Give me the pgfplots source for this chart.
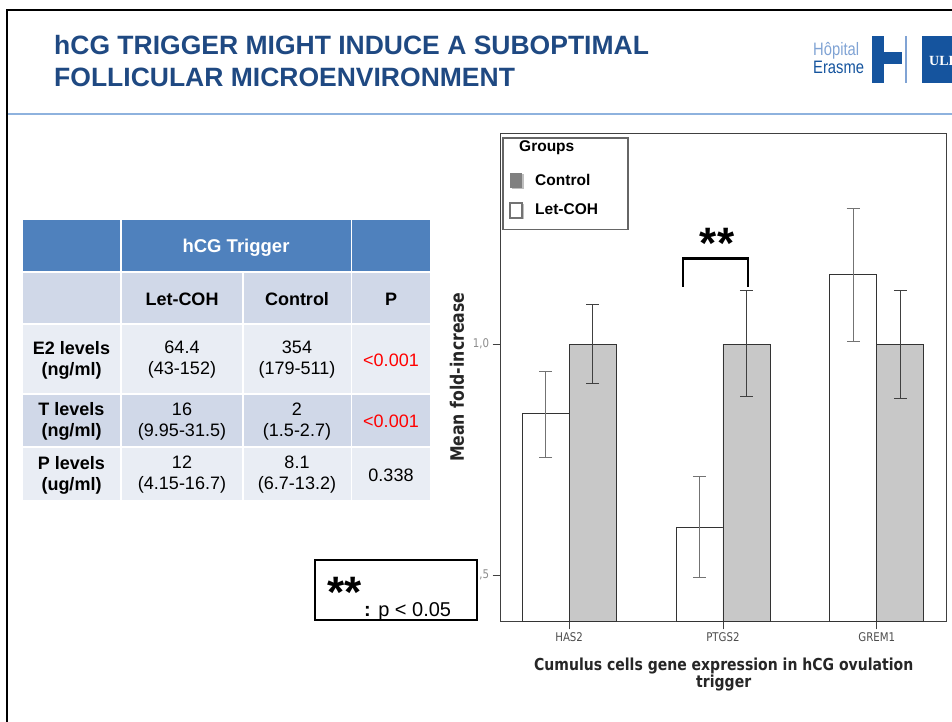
\documentclass[border=0pt]{standalone}
\usepackage{pgfplots}
\pgfplotsset{compat=1.18}
\usepackage{fontspec}
\setmainfont{Liberation Sans}
\newfontfamily\chartfont[FakeStretch=0.85]{DejaVu Sans}
\newfontfamily\seriffont{Liberation Serif}
\definecolor{titleblue}{RGB}{31,73,130}
\definecolor{rulecol}{RGB}{142,178,222}
\definecolor{hdr}{RGB}{79,129,189}
\definecolor{rowA}{RGB}{208,216,232}
\definecolor{rowB}{RGB}{233,237,244}
\definecolor{logoblue}{RGB}{21,84,158}
\definecolor{logolight}{RGB}{128,163,212}
\definecolor{ctrlgray}{RGB}{200,200,200}
\definecolor{pred}{RGB}{255,0,0}
\newcommand{\tbl}{\fontsize{18}{21}\selectfont}
\newcommand{\cellrow}[3]{%
  \fill[#1] (22.7,#2) rectangle (120,#3);
  \fill[#1] (121.5,#2) rectangle (242,#3);
  \fill[#1] (243.5,#2) rectangle (350.5,#3);
  \fill[#1] (352,#2) rectangle (430,#3);}
\begin{document}
\begin{tikzpicture}[x=1pt,y=1pt]
\useasboundingbox (0,0) rectangle (952,722);
\begin{scope}
\clip (0,0) rectangle (952,722);
% slide frame
\draw[line width=2.5pt] (7,-5) -- (7,712) -- (960,712);
% title rule
\draw[rulecol, line width=2pt] (8,608) -- (960,608);
% title
\node[anchor=base west, inner sep=0, text=titleblue, font=\fontsize{26.5}{30}\selectfont\bfseries] at (54,667) {hCG TRIGGER MIGHT INDUCE A SUBOPTIMAL};
\node[anchor=base west, inner sep=0, text=titleblue, font=\fontsize{26.5}{30}\selectfont\bfseries] at (54,635) {FOLLICULAR MICROENVIRONMENT};
% logo
\node[anchor=base west, inner sep=0, text=logolight, font=\fontsize{18}{18}\selectfont] at (813,666.3) {\scalebox{0.82}[1]{Hôpital}};
\node[anchor=base west, inner sep=0, text=logoblue, font=\fontsize{18}{18}\selectfont] at (813,648.7) {\scalebox{0.82}[1]{Erasme}};
\fill[logoblue] (872,686) rectangle (883.5,639);
\fill[logoblue] (883.5,670) rectangle (902,658);
\draw[logolight, line width=1.5pt] (906,686) -- (906,639);
\fill[logoblue] (922,686) rectangle (960,639);
\node[anchor=west, inner sep=0, text=white, font=\seriffont\fontsize{14}{14}\selectfont\bfseries] at (929,661) {ULB};
\end{scope}
% table
\fill[hdr] (22.7,502) rectangle (120,451);
\fill[hdr] (121.5,502) rectangle (350.5,451);
\fill[hdr] (352,502) rectangle (430,451);
\cellrow{rowA}{448.5}{399}
\cellrow{rowB}{397}{329}
\cellrow{rowA}{327}{276}
\cellrow{rowB}{274}{222}
\node[text=white, font=\fontsize{18.5}{21}\selectfont\bfseries] at (236,474) {hCG Trigger};
\node[font=\tbl\bfseries] at (182,423) {Let-COH};
\node[font=\tbl\bfseries] at (297,423) {Control};
\node[font=\tbl\bfseries] at (391,423) {P};
\node[font=\tbl\bfseries, align=center] at (71.5,362) {E2 levels\\(ng/ml)};
\node[font=\tbl, align=center] at (182,362) {64.4\\(43-152)};
\node[font=\tbl, align=center] at (297,362) {354\\(179-511)};
\node[font=\tbl, text=pred] at (391,362) {<0.001};
\node[font=\tbl\bfseries, align=center] at (71.5,300.5) {T levels\\(ng/ml)};
\node[font=\tbl, align=center] at (182,300.5) {16\\(9.95-31.5)};
\node[font=\tbl, align=center] at (297,300.5) {2\\(1.5-2.7)};
\node[font=\tbl, text=pred] at (391,300.5) {<0.001};
\node[font=\tbl\bfseries, align=center] at (71.5,247) {P levels\\(ug/ml)};
\node[font=\tbl, align=center] at (182,247) {12\\(4.15-16.7)};
\node[font=\tbl, align=center] at (297,247) {8.1\\(6.7-13.2)};
\node[font=\tbl] at (391,247) {0.338};
% significance key box
\draw[line width=2pt] (315,162) rectangle (476.7,102);
\node[anchor=base, inner sep=0, font=\fontsize{44}{44}\selectfont\bfseries] at (345,114) {**};
\node[anchor=base west, inner sep=0, font=\fontsize{20}{20}\selectfont] at (364,105) {\textbf{:} p < 0.05};
% chart
\begin{axis}[
  at={(500.7pt,100.5pt)}, anchor=south west,
  width=446pt, height=488.5pt, scale only axis,
  xmin=-0.445, xmax=2.455, ymin=0.4, ymax=1.457,
  axis line style={draw=black!75, line width=0.8pt},
  xtick={0,1,2}, xticklabels={HAS2,PTGS2,GREM1},
  ytick={0.5,1.0}, yticklabels={{,5},{1,0}},
  tick align=outside, xtick pos=bottom, ytick pos=left,
  major tick length=8pt,
  tick style={draw=black!75, line width=0.8pt},
  xticklabel style={font=\chartfont\fontsize{12}{12}\selectfont, text=black!70},
  yticklabel style={font=\chartfont\fontsize{12}{12}\selectfont, text=black!45},
  ybar, bar width=0.306, bar shift=0pt,
  xlabel={Cumulus cells gene expression in hCG ovulation\\trigger},
  xlabel style={font=\chartfont\fontsize{16.5}{17}\selectfont\bfseries, text=black!85, align=center, at={(axis description cs:0.5,0)}, anchor=north, yshift=-36pt, inner sep=0pt},
  ylabel={Mean fold-increase},
  ylabel style={font=\chartfont\fontsize{18.5}{19}\selectfont\bfseries, text=black!85, at={(axis description cs:-0.098,0.5)}, anchor=center, inner sep=0pt},
]
\addplot[fill=white, draw=black!80, line width=0.6pt,
  error bars/.cd, y dir=both, y explicit,
  error bar style={draw=black!55, line width=0.6pt},
  error mark=-,
  error mark options={rotate=90, draw=black!55, mark size=6.5pt, line width=0.6pt}]
  coordinates {
  (-0.153,0.850) += (0,0.092) -= (0,0.094)
  (0.847,0.603) += (0,0.111) -= (0,0.107)
  (1.847,1.152) += (0,0.141) -= (0,0.146)
  };
\addplot[fill=ctrlgray, draw=black!80, line width=0.6pt,
  error bars/.cd, y dir=both, y explicit,
  error bar style={draw=black!75, line width=0.9pt},
  error mark=-,
  error mark options={rotate=90, draw=black!75, mark size=6.5pt, line width=0.9pt}]
  coordinates {
  (0.153,1.0) += (0,0.086) -= (0,0.086)
  (1.153,1.0) += (0,0.116) -= (0,0.114)
  (2.153,1.0) += (0,0.117) -= (0,0.118)
  };
\end{axis}
% legend
\draw[draw=black!60, line width=1.2pt, fill=white] (503,584) rectangle (628,492.3);
\node[anchor=west, inner sep=0, font=\fontsize{15.5}{16}\selectfont\bfseries] at (519,574) {Groups};
\fill[black!25] (511.5,547.5) rectangle (523.5,532.5);
\fill[black!50] (510,549) rectangle (522,534);
\node[anchor=west, inner sep=0, font=\fontsize{15.5}{16}\selectfont\bfseries] at (535,542) {Control};
\fill[black!25] (511.5,517.5) rectangle (523.5,502.5);
\draw[draw=black!55, line width=1.5pt, fill=white] (510,519) rectangle (522,504);
\node[anchor=west, inner sep=0, font=\fontsize{15.5}{16}\selectfont\bfseries] at (535,513) {Let-COH};
% significance bracket
\draw[line width=2.5pt] (683,435.3) -- (683,463.7) -- (748,463.7) -- (748,435.3);
\node[anchor=base, inner sep=0, font=\fontsize{44}{44}\selectfont\bfseries] at (717,463) {**};
\end{tikzpicture}
\end{document}
